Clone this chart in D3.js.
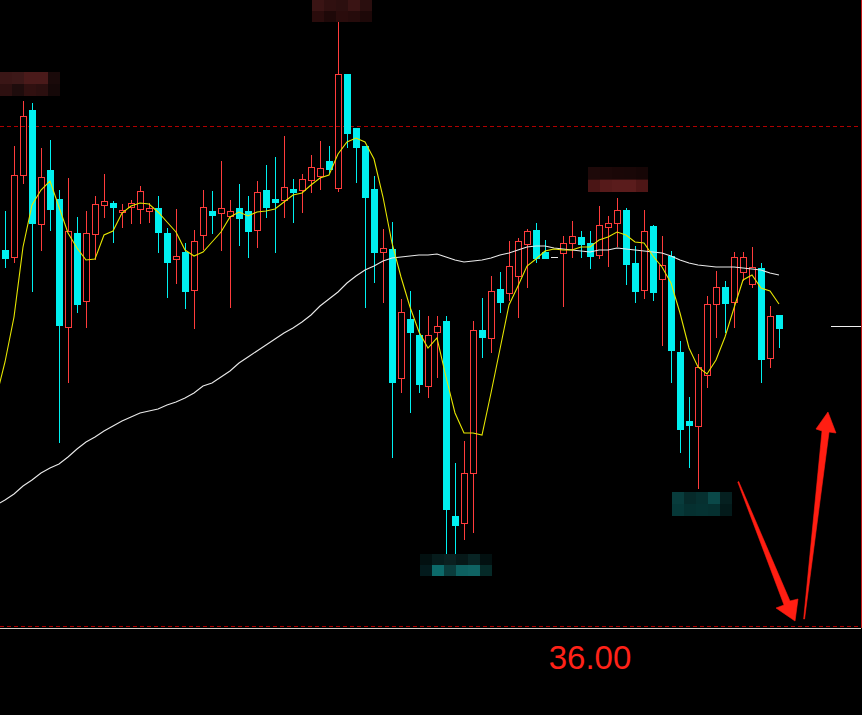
<!DOCTYPE html>
<html><head><meta charset="utf-8">
<script src="https://cdn.jsdelivr.net/npm/d3@7/dist/d3.min.js"></script>
<style>html,body{margin:0;padding:0;background:#000;overflow:hidden}</style>
</head><body>
<svg id="chart" width="862" height="715"></svg>
<script>
// ---- data ----
const candleOpen = [43.52,43.38,45.02,46.32,44.04,45.12,44.54,41.98,43.86,42.50,43.84,44.42,44.46,44.28,44.38,44.34,44.30,44.36,43.86,43.34,43.48,42.72,43.82,44.30,44.26,44.20,44.36,44.30,43.92,44.72,44.54,44.52,44.74,44.72,44.92,45.00,45.30,44.76,47.04,45.96,45.60,44.74,43.48,43.54,40.96,42.14,41.82,40.80,41.88,42.10,38.20,38.06,39.06,41.92,41.76,42.74,42.66,43.00,43.64,43.92,43.48,43.38,43.46,43.66,43.78,43.66,43.42,43.98,44.06,44.32,43.26,42.72,44.00,42.94,43.40,41.48,40.10,40.00,41.02,42.44,42.78,42.48,43.08,42.84,43.16,41.36,42.22];
const candleHigh = [44.30,45.60,46.50,46.46,45.56,45.72,44.72,44.96,44.18,44.30,44.60,45.04,44.50,44.44,44.52,44.80,44.46,44.60,43.96,44.34,43.66,43.92,44.72,44.70,45.30,44.52,44.84,44.60,44.90,45.22,45.38,45.80,44.94,45.04,45.42,45.70,45.60,48.08,47.04,45.96,45.60,45.00,43.94,44.08,42.54,42.70,42.32,42.20,42.20,42.20,39.26,39.70,42.10,42.56,43.00,43.08,43.70,43.76,43.94,44.06,43.72,43.38,43.80,44.10,43.90,43.90,44.40,44.20,44.56,44.36,43.60,44.32,44.02,43.80,43.50,41.70,40.58,41.44,42.60,43.10,42.90,43.48,43.48,43.58,43.26,42.40,42.22];
const candleLow = [43.18,43.28,44.86,42.70,43.52,43.92,39.68,40.88,42.28,41.98,43.34,44.18,43.68,43.98,44.06,44.06,44.08,43.48,42.58,42.86,42.36,41.96,43.54,43.86,43.52,42.38,43.62,43.38,43.58,44.18,43.48,44.18,44.08,44.28,44.68,44.74,45.08,44.70,45.58,44.88,42.38,42.88,42.48,39.38,40.68,40.28,40.68,40.58,40.98,37.38,37.38,37.74,37.88,41.38,41.48,42.28,42.52,42.18,42.78,43.28,43.36,43.38,42.40,43.38,43.38,43.16,43.36,43.20,43.60,42.84,42.48,42.56,42.52,41.62,40.88,39.48,39.18,38.76,40.78,41.78,41.88,41.98,42.92,42.78,40.88,41.18,41.58];
const candleClose = [43.36,45.02,46.20,44.06,44.98,44.34,42.02,43.90,42.44,43.86,44.44,44.50,44.38,44.32,44.46,44.70,44.36,43.88,43.28,43.40,42.70,43.70,44.38,44.22,44.36,44.30,44.16,43.90,44.68,44.38,44.48,44.78,44.68,44.94,45.18,45.16,45.14,47.04,45.86,45.58,44.58,43.48,43.56,40.88,42.28,41.88,40.84,41.82,42.00,38.34,38.02,39.06,41.92,41.78,42.70,42.48,43.20,43.70,43.90,43.36,43.36,43.38,43.66,43.80,43.64,43.40,44.02,44.06,44.32,43.24,42.70,43.90,42.68,43.22,41.52,39.94,40.02,41.18,42.44,42.78,42.46,43.38,43.38,43.18,41.34,42.20,41.96];
// short moving average (first value belongs to the bar before the first visible one)
const maShort = [40.56,41.28,42.18,43.58,44.42,44.72,44.90,44.38,43.86,43.56,43.32,43.34,43.82,43.90,44.26,44.40,44.46,44.44,44.28,44.08,43.88,43.52,43.40,43.48,43.68,43.88,44.18,44.28,44.20,44.28,44.30,44.34,44.48,44.62,44.66,44.82,44.96,45.02,45.44,45.68,45.76,45.68,45.34,44.58,43.66,42.98,42.38,41.88,41.56,41.76,40.98,40.26,39.86,39.86,39.82,40.66,41.54,42.42,42.80,43.20,43.34,43.50,43.54,43.52,43.52,43.58,43.58,43.72,43.78,43.88,43.82,43.68,43.66,43.40,43.18,42.86,42.26,41.56,41.18,41.04,41.32,41.78,42.36,42.92,43.02,42.76,42.70,42.44];
// long moving average
const maLong = [38.42,38.52,38.64,38.80,38.92,39.06,39.16,39.24,39.38,39.54,39.68,39.78,39.90,40.00,40.10,40.18,40.26,40.30,40.34,40.42,40.48,40.56,40.66,40.80,40.86,40.98,41.10,41.26,41.38,41.50,41.62,41.74,41.86,41.96,42.08,42.22,42.40,42.54,42.68,42.86,43.00,43.12,43.20,43.30,43.36,43.38,43.40,43.42,43.42,43.44,43.38,43.32,43.28,43.30,43.32,43.36,43.42,43.46,43.52,43.58,43.60,43.60,43.56,43.54,43.52,43.50,43.48,43.52,43.52,43.56,43.54,43.52,43.50,43.48,43.46,43.40,43.32,43.26,43.22,43.20,43.18,43.18,43.18,43.16,43.14,43.12,43.06,43.02];
const priceLines = [46.00, 36.00];
const lastPrice = [42.00];

// ---- scales ----
const W = 862, H = 715;
const x = d3.scaleLinear().domain([0, candleOpen.length - 1]).range([5, 779]);
const y = d3.scaleLinear().domain([36, 46]).range([626, 126]);
const RED = "#ff3c3c", CYAN = "#00f0f0";

const svg = d3.select("#chart");
svg.append("rect").attr("width", W).attr("height", H).attr("fill", "#000");
svg.append("defs").append("clipPath").attr("id", "clip")
  .append("rect").attr("x", 0).attr("y", 0).attr("width", W - 1).attr("height", 627);

// price lines
priceLines.forEach(p => {
  svg.append("line").attr("x1", 0).attr("x2", W).attr("y1", Math.round(y(p)) + 0.5).attr("y2", Math.round(y(p)) + 0.5)
    .attr("stroke", "#b00000").attr("stroke-width", 1).attr("stroke-dasharray", "4,3");
});
// bottom frame line and right border
svg.append("line").attr("x1", 0).attr("x2", W - 1).attr("y1", Math.round(y(36)) + 2.5).attr("y2", Math.round(y(36)) + 2.5)
  .attr("stroke", "#d8d0c8").attr("stroke-width", 1);
svg.append("line").attr("x1", W - 0.5).attr("x2", W - 0.5).attr("y1", 0).attr("y2", Math.round(y(36)) + 2)
  .attr("stroke", "#c01818").attr("stroke-width", 1);

// mosaic (blurred) labels anchored to candles
const labels = [
  {i: 2, at: "high", dx: -23, dy: -29, cw: 12, ch: 12, rows: [["#3a1616","#3c1818","#4a1a1a","#4a1a1a","#1a0a0a"],["#2d1010","#1e0c0c","#301010","#2b0f0f","#150808"]]},
  {i: 37, at: "high", dx: -26, dy: -22, cw: 12, ch: 11, rows: [["#3a1414","#301010","#2c0f0f","#3a1414","#2a0e0e"],["#2a0c0c","#1e0808","#2a0c0c","#260b0b","#1d0808"]]},
  {i: 68, at: "high", dx: -29, dy: -31, cw: 12, ch: 12.5, rows: [["#1e0909","#1c0808","#1a0707","#190707","#160606"],["#4a1515","#561a1a","#5a1c1c","#5a1c1c","#4e1616"]]},
  {i: 50, at: "low", dx: -35, dy: -3, cw: 12, ch: 11, rows: [["#021010","#061c1c","#0a2020","#061818","#082424","#021010"],["#031a1c","#0c6a6a","#0a3c3c","#0d6060","#0f6363","#052a28"]]},
  {i: 77, at: "low", dx: -26, dy: 4, cw: 12, ch: 12, rows: [["#083c3c","#062a2a","#063030","#0a4848","#052020"],["#063838","#053030","#053232","#053030","#031a1a"]]}
];

// candles
const g = svg.append("g").attr("clip-path", "url(#clip)");
candleOpen.forEach((o, i) => {
  const c = candleClose[i], hi = candleHigh[i], lo = candleLow[i];
  const cx = Math.round(x(i));
  const yo = Math.round(y(o)), yc = Math.round(y(c)), yh = Math.round(y(hi)), yl = Math.round(y(lo));
  if (c > o) {
    const top = yc, bot = yo;
    g.append("line").attr("x1", cx + 0.5).attr("x2", cx + 0.5).attr("y1", yh).attr("y2", top).attr("stroke", RED);
    g.append("line").attr("x1", cx + 0.5).attr("x2", cx + 0.5).attr("y1", bot + 1).attr("y2", yl + 1).attr("stroke", RED);
    g.append("rect").attr("x", cx - 2.5).attr("y", top + 0.5).attr("width", 6).attr("height", Math.max(1, bot - top))
      .attr("fill", "none").attr("stroke", RED).attr("stroke-width", 1);
  } else if (c < o) {
    const top = yo, bot = yc;
    g.append("line").attr("x1", cx + 0.5).attr("x2", cx + 0.5).attr("y1", yh).attr("y2", yl + 1).attr("stroke", CYAN);
    g.append("rect").attr("x", cx - 3).attr("y", top).attr("width", 7).attr("height", Math.max(1, bot - top + 1)).attr("fill", CYAN);
  } else {
    g.append("line").attr("x1", cx + 0.5).attr("x2", cx + 0.5).attr("y1", yh).attr("y2", yl + 1).attr("stroke", "#e8e8e8");
    g.append("line").attr("x1", cx - 3).attr("x2", cx + 4).attr("y1", yo + 0.5).attr("y2", yo + 0.5).attr("stroke", "#e8e8e8");
  }
});

// moving averages
const line = d3.line().x((d, i) => x(i - 1)).y(d => y(d));
g.append("path").datum(maLong).attr("d", line).attr("fill", "none").attr("stroke", "#e8e8e8").attr("stroke-width", 1.1);
g.append("path").datum(maShort).attr("d", line).attr("fill", "none").attr("stroke", "#e6e600").attr("stroke-width", 1.1);

// labels
labels.forEach(L => {
  const cx = Math.round(x(L.i));
  const ay = Math.round(y(L.at === "high" ? candleHigh[L.i] : candleLow[L.i]));
  const gx = cx + L.dx, gy = ay + L.dy;
  L.rows.forEach((row, r) => row.forEach((col, k) => {
    svg.append("rect").attr("x", gx + k * L.cw).attr("y", gy + r * L.ch).attr("width", L.cw).attr("height", L.ch).attr("fill", col);
  }));
});

// last price marker
svg.append("line").attr("x1", 831).attr("x2", W - 1).attr("y1", Math.round(y(lastPrice[0])) + 0.5).attr("y2", Math.round(y(lastPrice[0])) + 0.5)
  .attr("stroke", "#f0f0f0").attr("stroke-width", 1);

// hand-drawn red arrows (in data coordinates: [bar index, price])
const arrows = [
  [[81.42, 38.88], [81.52, 38.89], [87.22, 36.50], [88.11, 36.54], [87.78, 36.10], [85.67, 36.36], [86.56, 36.42]],
  [[88.74, 36.14], [88.84, 36.14], [91.56, 39.88], [92.33, 39.86], [91.44, 40.28], [90.11, 39.94], [90.78, 39.90]]
];
arrows.forEach(pts => {
  svg.append("polygon").attr("points", pts.map(p => x(p[0]) + "," + y(p[1])).join(" "))
    .attr("fill", "#ff1e12").attr("stroke", "#ff1e12").attr("stroke-width", 0.6).attr("stroke-linejoin", "round");
});

// price label
svg.append("text").attr("x", 590).attr("y", Math.round(y(36)) + 43)
  .attr("text-anchor", "middle").attr("fill", "#ff2218")
  .attr("font-family", "Liberation Sans, Arial, sans-serif").attr("font-size", 33)
  .text(priceLines[1].toFixed(2));
</script>
</body></html>
